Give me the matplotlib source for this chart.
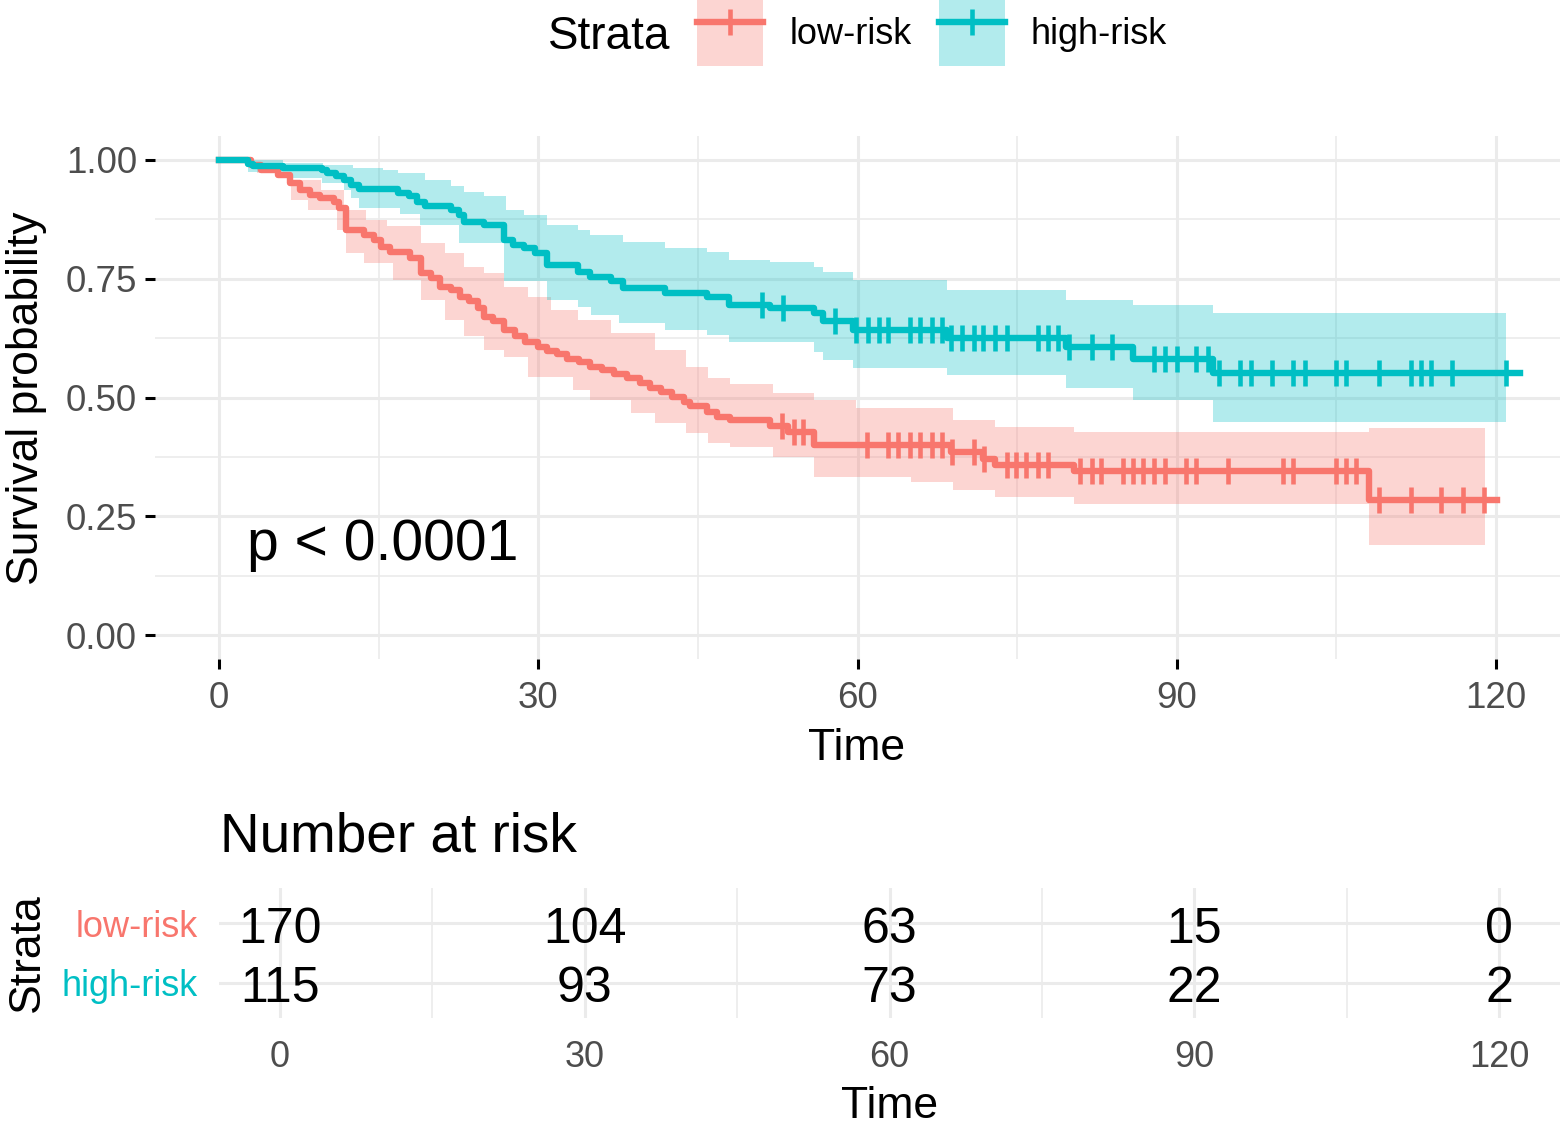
import numpy as np
import matplotlib
matplotlib.use("Agg")
import matplotlib.pyplot as plt
from matplotlib.lines import Line2D
from matplotlib.patches import Patch
from matplotlib import transforms

plt.rcParams['font.family'] = ['Liberation Sans', 'DejaVu Sans']

# ---------------- data ----------------
strata = ["low-risk", "high-risk"]
colors = {"low-risk": "#F8766D", "high-risk": "#00BFC4"}

# low-risk KM steps
low_time = [0, 3.0, 4.0, 5.6, 6.7, 7.6, 8.6, 9.5, 10.8, 11.3, 11.9, 13.6, 14.6, 15.2, 16.1,
            18.0, 19.0, 19.9, 20.8, 21.8, 22.7, 23.5, 24.3, 24.9, 25.8, 26.8, 27.8, 28.8,
            30.0, 30.8, 31.8, 32.7, 33.8, 34.9, 36.0, 37.1, 38.3, 39.6, 40.5, 41.5, 42.6,
            43.7, 44.3, 45.9, 46.8, 48.0, 51.8, 53.5, 55.9, 68.8, 71.8, 72.9, 80.3, 108.1, 120.1]
low_surv = [1.0, 0.988, 0.979, 0.968, 0.951, 0.937, 0.926, 0.919, 0.912, 0.898, 0.853, 0.842, 0.832, 0.817, 0.807,
            0.793, 0.761, 0.751, 0.733, 0.726, 0.712, 0.702, 0.688, 0.670, 0.660, 0.641, 0.630, 0.616,
            0.607, 0.598, 0.591, 0.581, 0.574, 0.565, 0.558, 0.549, 0.542, 0.530, 0.521, 0.512, 0.502,
            0.491, 0.482, 0.470, 0.460, 0.453, 0.441, 0.428, 0.401, 0.385, 0.370, 0.358, 0.346, 0.285, 0.285]
low_censor = [52.9, 54.0, 54.9, 60.9, 62.9, 63.8, 64.9, 65.9, 67.0, 67.9, 68.9, 70.9, 71.9, 74.0, 74.9,
              75.8, 77.0, 77.9, 80.9, 82.0, 82.9, 84.9, 85.9, 86.8, 87.9, 88.9, 90.9, 91.8, 94.8,
              100.0, 100.9, 105.0, 105.9, 106.8, 109.0, 112.0, 114.8, 116.9, 118.9]
low_up_t = [0, 3.6, 5.5, 6.8, 9.6, 11.8, 13.8, 15.8, 19.0, 21.2, 23.0, 24.9, 26.8, 29.0, 31.2, 33.7,
            36.8, 41.0, 43.9, 46.0, 48.0, 52.1, 55.9, 59.9, 69.0, 72.9, 80.3, 108.1, 119.0]
low_up = [1.0, 0.993, 0.975, 0.958, 0.937, 0.895, 0.874, 0.860, 0.825, 0.804, 0.775, 0.761, 0.733, 0.712, 0.684, 0.663,
          0.635, 0.600, 0.565, 0.540, 0.528, 0.509, 0.495, 0.477, 0.453, 0.439, 0.428, 0.435, 0.435]
low_lo_t = [0, 3.6, 6.8, 8.4, 11.1, 11.9, 13.6, 16.4, 19.0, 21.2, 23.0, 24.9, 26.8, 29.0, 33.3, 34.9,
            38.7, 41.0, 43.9, 46.0, 48.0, 52.1, 55.9, 65.0, 69.0, 72.9, 80.3, 108.1, 119.0]
low_lo = [1.0, 0.972, 0.916, 0.895, 0.853, 0.804, 0.783, 0.747, 0.705, 0.663, 0.630, 0.600, 0.586, 0.544, 0.516, 0.495,
          0.467, 0.446, 0.425, 0.405, 0.395, 0.375, 0.333, 0.323, 0.305, 0.291, 0.277, 0.189, 0.189]

# high-risk KM steps
high_time = [0, 2.7, 3.2, 6.0, 9.7, 10.2, 11.0, 11.8, 12.4, 13.2, 16.8, 17.9, 18.6, 19.4, 21.8, 22.6,
             23.0, 24.9, 26.8, 27.6, 28.7, 29.7, 30.8, 33.7, 34.9, 36.8, 38.0, 41.9, 45.9, 47.9,
             51.8, 55.9, 56.8, 59.6, 68.4, 79.6, 85.9, 93.4, 122.2]
high_surv = [1.0, 0.992, 0.987, 0.983, 0.979, 0.972, 0.965, 0.958, 0.947, 0.938, 0.930, 0.923, 0.912, 0.902, 0.895, 0.884,
             0.870, 0.863, 0.832, 0.821, 0.814, 0.803, 0.779, 0.765, 0.754, 0.744, 0.730, 0.719, 0.712, 0.695,
             0.688, 0.678, 0.660, 0.642, 0.626, 0.607, 0.582, 0.551, 0.551]
high_censor = [51.0, 53.0, 57.9, 59.9, 61.0, 62.0, 62.9, 64.9, 65.9, 67.0, 67.9, 68.8, 69.8, 70.9, 71.8,
               72.9, 74.0, 77.0, 77.9, 78.8, 79.9, 82.0, 83.9, 87.9, 88.9, 90.0, 91.8, 92.9, 94.0, 95.9,
               97.0, 98.9, 100.9, 102.0, 105.0, 105.9, 109.0, 112.0, 112.9, 113.9, 115.9, 120.9]
high_up_t = [0, 6.0, 9.8, 12.6, 15.4, 16.8, 19.4, 21.8, 23.0, 24.9, 27.0, 28.7, 30.8, 33.7, 34.9, 38.0,
             41.9, 45.9, 47.9, 51.8, 55.9, 56.8, 59.6, 68.4, 79.6, 85.9, 93.4, 120.9]
high_up = [1.0, 0.993, 0.989, 0.983, 0.979, 0.972, 0.958, 0.944, 0.933, 0.923, 0.895, 0.884, 0.863, 0.853, 0.842, 0.828,
           0.815, 0.806, 0.790, 0.785, 0.775, 0.765, 0.747, 0.726, 0.705, 0.695, 0.677, 0.677]
high_lo_t = [0, 2.7, 6.0, 9.7, 11.8, 12.4, 13.2, 17.0, 18.9, 22.6, 26.8, 30.8, 33.7, 35.0, 37.6, 41.9,
             45.9, 47.9, 55.9, 56.8, 59.6, 68.4, 79.6, 85.9, 93.4, 120.9]
high_lo = [1.0, 0.975, 0.962, 0.951, 0.937, 0.919, 0.898, 0.885, 0.863, 0.825, 0.745, 0.705, 0.690, 0.674, 0.656, 0.642,
           0.632, 0.617, 0.596, 0.579, 0.561, 0.547, 0.519, 0.495, 0.449, 0.449]

risk_times = [0, 30, 60, 90, 120]
risk_low = [170, 104, 63, 15, 0]
risk_high = [115, 93, 73, 22, 2]
pval_text = "p < 0.0001"

curves = {
    "low-risk": dict(t=low_time, s=low_surv, c=low_censor, ut=low_up_t, u=low_up, lt=low_lo_t, l=low_lo),
    "high-risk": dict(t=high_time, s=high_surv, c=high_censor, ut=high_up_t, u=high_up, lt=high_lo_t, l=high_lo),
}


def step_at(times, values, q):
    times = np.asarray(times)
    values = np.asarray(values)
    idx = np.searchsorted(times, q, side="right") - 1
    idx = np.clip(idx, 0, len(values) - 1)
    return values[idx]


# ---------------- figure ----------------
W, H = 1568, 1136
fig = plt.figure(figsize=(W / 100, H / 100), dpi=100)
grid_c = "#EBEBEB"
txt_grey = "#4D4D4D"
LW = 4.6
MS = 19
MEW = 3.3


def px_axes(l, r, t, b):
    return fig.add_axes([l / W, 1 - b / H, (r - l) / W, (b - t) / H])


ax = px_axes(155, 1560, 136, 659)
ax.set_xlim(-6, 126)
ax.set_ylim(-0.05, 1.05)

for name in strata:
    d = curves[name]
    col = colors[name]
    tt = np.union1d(d["ut"], d["lt"])
    up = step_at(d["ut"], d["u"], tt)
    lo = step_at(d["lt"], d["l"], tt)
    ax.fill_between(tt, lo, up, step="post", color=col, alpha=0.3, linewidth=0, zorder=2)
for name in strata:
    d = curves[name]
    col = colors[name]
    ax.step(d["t"], d["s"], where="post", color=col, lw=LW, zorder=3)
    cy = step_at(d["t"], d["s"], np.asarray(d["c"]))
    ax.plot(d["c"], cy, linestyle="none", marker="|", markersize=MS, markeredgewidth=MEW,
            color=col, zorder=4)

ax.set_xticks([0, 30, 60, 90, 120])
ax.set_xticks([15, 45, 75, 105], minor=True)
ax.set_yticks([0, 0.25, 0.5, 0.75, 1.0])
ax.set_yticks([0.125, 0.375, 0.625, 0.875], minor=True)
ax.set_yticklabels(["0.00", "0.25", "0.50", "0.75", "1.00"])
ax.grid(True, which="major", color=grid_c, lw=2.2, zorder=0)
ax.grid(True, which="minor", color=grid_c, lw=1.2, zorder=0)
ax.set_axisbelow(True)
for sp in ax.spines.values():
    sp.set_visible(False)
ax.tick_params(axis="both", which="major", length=7, width=2.2, color="black",
               labelsize=26.5, labelcolor=txt_grey)
ax.tick_params(axis="x", which="major", pad=9)
ax.tick_params(axis="y", which="major", pad=6)
ax.tick_params(axis="both", which="minor", length=0)
ax.set_xlabel("Time", fontsize=32)
ax.xaxis.set_label_coords((857 - 155) / 1405, (659 - 748) / 523)
ax.xaxis.label.set_va("center")
ax.set_ylabel("Survival probability", fontsize=32)
ax.yaxis.set_label_coords((27 - 155) / 1405, (659 - 398) / 523)
ax.yaxis.label.set_va("center")
ax.text(2.6, 0.19, pval_text, fontsize=41, ha="left", va="center", color="black")

# legend
handles = []
for name in strata:
    p = Patch(facecolor=colors[name], alpha=0.3, edgecolor="none")
    ln = Line2D([], [], color=colors[name], lw=LW, marker="|", markersize=MS, markeredgewidth=MEW)
    handles.append((p, ln))
leg = ax.legend(handles, strata, ncol=2, loc="center", bbox_to_anchor=(932 / W, 1 - 33 / H),
                bbox_transform=fig.transFigure, frameon=False, fontsize=26,
                handlelength=1.83, handleheight=2.43, handletextpad=0.72, columnspacing=0.75,
                borderpad=0, borderaxespad=0)
fig.text(670 / W, 1 - 37 / H, "Strata", fontsize=33, ha="right", va="center")

# ---------------- risk table ----------------
axt = px_axes(219, 1560, 888, 1018)
axt.set_xlim(-6, 126)
axt.set_ylim(0.4, 2.6)
ypos = {"low-risk": 2, "high-risk": 1}
shift = transforms.offset_copy(axt.transData, fig=fig, x=0, y=-5, units="points")
for name, vals in zip(strata, [risk_low, risk_high]):
    for t, v in zip(risk_times, vals):
        axt.text(t, ypos[name], str(v), fontsize=36, ha="center", va="center", color="black",
                 transform=shift)
axt.set_xticks(risk_times)
axt.set_xticks([15, 45, 75, 105], minor=True)
axt.set_yticks([1, 2])
axt.set_yticklabels(["high-risk", "low-risk"])
for lab in axt.get_yticklabels():
    lab.set_color(colors[lab.get_text()])
axt.grid(True, which="major", color=grid_c, lw=2.2, zorder=0)
axt.grid(True, which="minor", axis="x", color=grid_c, lw=1.2, zorder=0)
axt.set_axisbelow(True)
for sp in axt.spines.values():
    sp.set_visible(False)
axt.tick_params(axis="x", which="both", length=0, labelsize=26, labelcolor=txt_grey, pad=16)
axt.tick_params(axis="y", which="both", length=0, labelsize=26, pad=15)
axt.set_xlabel("Time", fontsize=32)
axt.xaxis.set_label_coords((890 - 219) / 1341, (1018 - 1107) / 130)
axt.xaxis.label.set_va("center")
axt.set_ylabel("Strata", fontsize=32)
axt.yaxis.set_label_coords((27 - 219) / 1341, 0.5)
axt.yaxis.label.set_va("center")
fig.text(220 / W, 1 - 838 / H, "Number at risk", fontsize=39.5, ha="left", va="center")

fig.savefig("out.png", dpi=100, facecolor="white")
